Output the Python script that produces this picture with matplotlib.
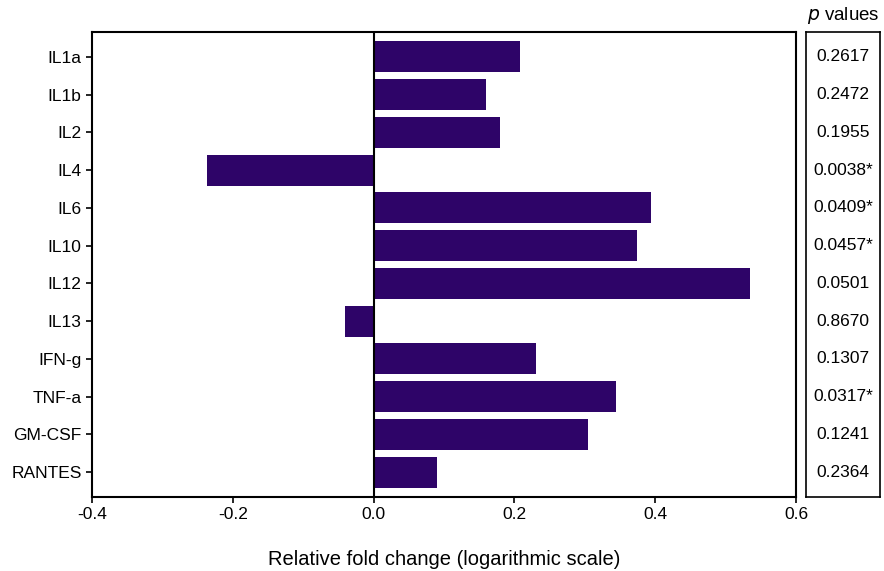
import numpy as np
import matplotlib.pyplot as plt

plt.rcParams['font.family'] = ['Liberation Sans', 'DejaVu Sans']

# Dados
citocinas = ["IL1a", "IL1b", "IL2", "IL4", "IL6", "IL10", "IL12", "IL13",
             "IFN-g", "TNF-a", "GM-CSF", "RANTES"]
fold_change = [0.208, 0.160, 0.180, -0.236, 0.394, 0.374, 0.535, -0.041,
               0.231, 0.344, 0.304, 0.090]
p_valores = ["0.2617", "0.2472", "0.1955", "0.0038*", "0.0409*", "0.0457*",
             "0.0501", "0.8670", "0.1307", "0.0317*", "0.1241", "0.2364"]

cor = '#2e0468'

fig = plt.figure(figsize=(8.84, 5.71), dpi=100)
W, H = 884, 571

# Eixo principal
ax = fig.add_axes([92 / W, 1 - 497 / H, (796 - 92) / W, (497 - 32) / H])
y = np.arange(len(citocinas))
ax.barh(y, fold_change, height=0.82, color=cor)
ax.axvline(0, color='black', lw=1.5)
ax.set_xlim(-0.4, 0.6)
ax.set_ylim(len(citocinas) - 0.34, -0.66)
ax.set_yticks(y)
ax.set_yticklabels(citocinas, fontsize=12.5)
ax.set_xticks([-0.4, -0.2, 0.0, 0.2, 0.4, 0.6])
ax.set_xticklabels(['-0.4', '-0.2', '0.0', '0.2', '0.4', '0.6'], fontsize=12.5)
ax.tick_params(axis='both', length=4, width=1.2, direction='out')
ax.set_xlabel('Relative fold change (logarithmic scale)', fontsize=14.5, labelpad=20)
for s in ax.spines.values():
    s.set_linewidth(1.5)

# Caixa dos p valores
ax2 = fig.add_axes([806 / W, 1 - 497 / H, (880 - 806) / W, (497 - 32) / H])
ax2.set_xlim(0, 1)
ax2.set_ylim(len(citocinas) - 0.34, -0.66)
ax2.set_xticks([])
ax2.set_yticks([])
for s in ax2.spines.values():
    s.set_linewidth(1.2)
for i, p in enumerate(p_valores):
    ax2.text(0.5, i, p, ha='center', va='center', fontsize=12.5)
ax2.text(0.5, 1.012, r'$\it{p}$ values', transform=ax2.transAxes,
         ha='center', va='bottom', fontsize=13.5)

fig.savefig('out.png', dpi=100)
